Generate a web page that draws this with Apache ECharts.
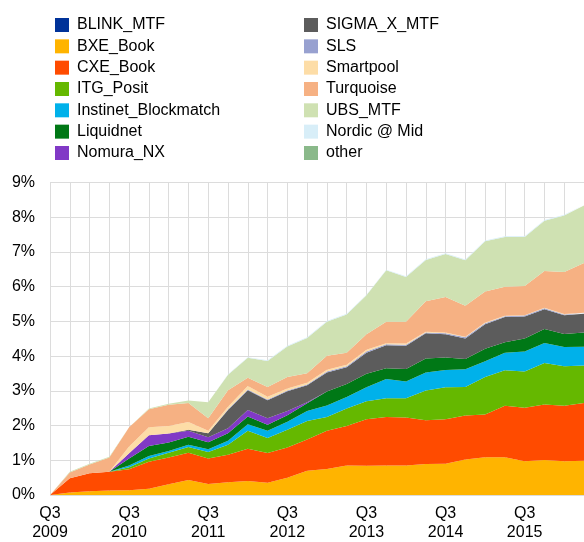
<!DOCTYPE html>
<html>
<head>
<meta charset="utf-8">
<script src="https://cdn.jsdelivr.net/npm/echarts@6/dist/echarts.min.js"></script>
<style>
  html, body { margin: 0; padding: 0; background: #fff; }
  #main { width: 584px; height: 542px; }
</style>
</head>
<body>
<div id="main"></div>
<script>
var quarters = ['Q3 2009','Q4 2009','Q1 2010','Q2 2010','Q3 2010','Q4 2010','Q1 2011','Q2 2011',
  'Q3 2011','Q4 2011','Q1 2012','Q2 2012','Q3 2012','Q4 2012','Q1 2013','Q2 2013',
  'Q3 2013','Q4 2013','Q1 2014','Q2 2014','Q3 2014','Q4 2014','Q1 2015','Q2 2015',
  'Q3 2015','Q4 2015','Q1 2016','Q2 2016'];

// market share in %, one value per quarter
var blinkMtf   = [0,0,0,0,0,0,0,0,0,0,0,0,0,0,0,0,0,0,0,0,0,0,0,0,0,0,0,0];
var bxeBook    = [0,.07,.11,.13,.14,.18,.31,.43,.32,.37,.40,.35,.50,.70,.75,.85,.84,.85,.85,.89,.90,1.02,1.09,1.09,.97,1.01,.97,.99];
var cxeBook    = [0,.41,.52,.54,.60,.78,.77,.79,.73,.79,.93,.86,.87,.90,1.10,1.14,1.34,1.40,1.38,1.26,1.28,1.27,1.23,1.48,1.54,1.60,1.60,1.66];
var itgPosit   = [0,0,0,0,.06,.09,.14,.16,.19,.29,.52,.43,.51,.53,.40,.50,.52,.54,.56,.86,.92,.82,1.08,1.02,1.05,1.19,1.14,1.08];
var instinet   = [0,0,0,0,.05,.07,.05,.07,.08,.11,.19,.21,.23,.29,.33,.33,.40,.55,.48,.52,.50,.51,.45,.51,.57,.58,.55,.54];
var liquidnet  = [0,0,0,0,.20,.29,.24,.23,.20,.22,.22,.17,.19,.22,.40,.38,.39,.31,.36,.40,.36,.30,.36,.30,.38,.40,.38,.41];
var nomuraNx   = [0,0,0,0,.15,.31,.26,.17,.14,.14,.19,.19,.12,.03,0,0,0,0,0,0,0,0,0,0,0,0,0,0];
var sigmaX     = [0,0,0,0,0,0,0,.03,.12,.53,.57,.52,.57,.49,.55,.48,.61,.66,.67,.73,.67,.59,.71,.73,.63,.57,.54,.54];
var sls        = [0,0,0,0,0,0,0,0,0,.02,.02,.02,.02,.02,.03,.03,.03,.03,.03,.02,.03,.03,.03,.02,.03,.03,.02,.02];
var smartpool  = [0,0,0,0,.20,.23,.22,.22,.07,.07,.10,.08,.06,.05,.05,.04,.05,.03,.03,.02,.02,.02,.02,.01,.01,.01,.01,.01];
var turquoise  = [0,.17,.25,.41,.55,.52,.61,.55,.36,.48,.24,.28,.33,.28,.40,.35,.45,.62,.63,.88,1.02,.89,.89,.84,.84,1.06,1.21,1.43];
var ubsMtf     = [0,.02,.02,.02,0,.02,.03,.07,.46,.44,.57,.75,.88,1.01,.98,1.10,1.12,1.48,1.29,1.19,1.24,1.31,1.45,1.43,1.41,1.45,1.63,1.66];
var nordicMid  = [0,0,0,0,0,0,0,0,0,.02,.02,.02,.02,.02,.02,.02,.02,.02,.02,.02,.02,.02,.02,.02,.02,.02,.02,.02];
var other      = [0,0,0,0,0,0,0,0,0,0,0,0,0,0,0,0,0,0,0,0,0,0,0,0,0,0,0,0];

var names  = ['BLINK_MTF','BXE_Book','CXE_Book','ITG_Posit','Instinet_Blockmatch','Liquidnet','Nomura_NX',
              'SIGMA_X_MTF','SLS','Smartpool','Turquoise','UBS_MTF','Nordic @ Mid','other'];
var values = [blinkMtf, bxeBook, cxeBook, itgPosit, instinet, liquidnet, nomuraNx,
              sigmaX, sls, smartpool, turquoise, ubsMtf, nordicMid, other];
var colors = ['#003299','#FFB400','#FF4B00','#65B800','#00B1EA','#007816','#8139C6',
              '#5C5C5C','#98A1D0','#FDDDA7','#F6B183','#CFE1B2','#D8EEF8','#8AB98A'];

var series = names.map(function (n, k) {
  return {
    name: n,
    type: 'line',
    stack: 'total',
    data: values[k],
    symbol: 'none',
    lineStyle: { width: 0 },
    areaStyle: { opacity: 1, color: colors[k] },
    itemStyle: { color: colors[k] }
  };
});

var legendText = { color: '#000', fontSize: 16, fontFamily: 'Liberation Sans, Arial', lineHeight: 16, padding: [0, 0, 0, 3] };

var myChart = echarts.init(document.getElementById('main'));
var option = {
  animation: false,
  color: colors,
  legend: [{
    orient: 'vertical', left: 50, top: 12,
    itemWidth: 14, itemHeight: 14, itemGap: 5.33,
    icon: 'rect',
    textStyle: legendText,
    data: names.slice(0, 7)
  }, {
    orient: 'vertical', left: 299, top: 12,
    itemWidth: 14, itemHeight: 14, itemGap: 5.33,
    icon: 'rect',
    textStyle: legendText,
    data: names.slice(7)
  }],
  grid: { left: 50, right: -3, top: 182.5, bottom: 44.7 },
  xAxis: {
    type: 'category',
    boundaryGap: false,
    data: quarters,
    axisLine: { show: false },
    axisTick: { show: false },
    axisLabel: {
      interval: 3,
      margin: 9,
      color: '#000',
      fontSize: 16,
      lineHeight: 19,
      fontFamily: 'Liberation Sans, Arial',
      formatter: function (v) { return v.replace(' ', '\n'); }
    },
    splitLine: { show: true, interval: 0, lineStyle: { color: '#dcdcdc', width: 1 } }
  },
  yAxis: {
    type: 'value',
    min: 0, max: 9, interval: 1,
    axisLine: { show: false },
    axisTick: { show: false },
    axisLabel: {
      margin: 15,
      color: '#000',
      fontSize: 16,
      fontFamily: 'Liberation Sans, Arial',
      formatter: '{value}%'
    },
    splitLine: { lineStyle: { color: '#dcdcdc', width: 1 } }
  },
  series: series
};
myChart.setOption(option);
</script>
</body>
</html>
